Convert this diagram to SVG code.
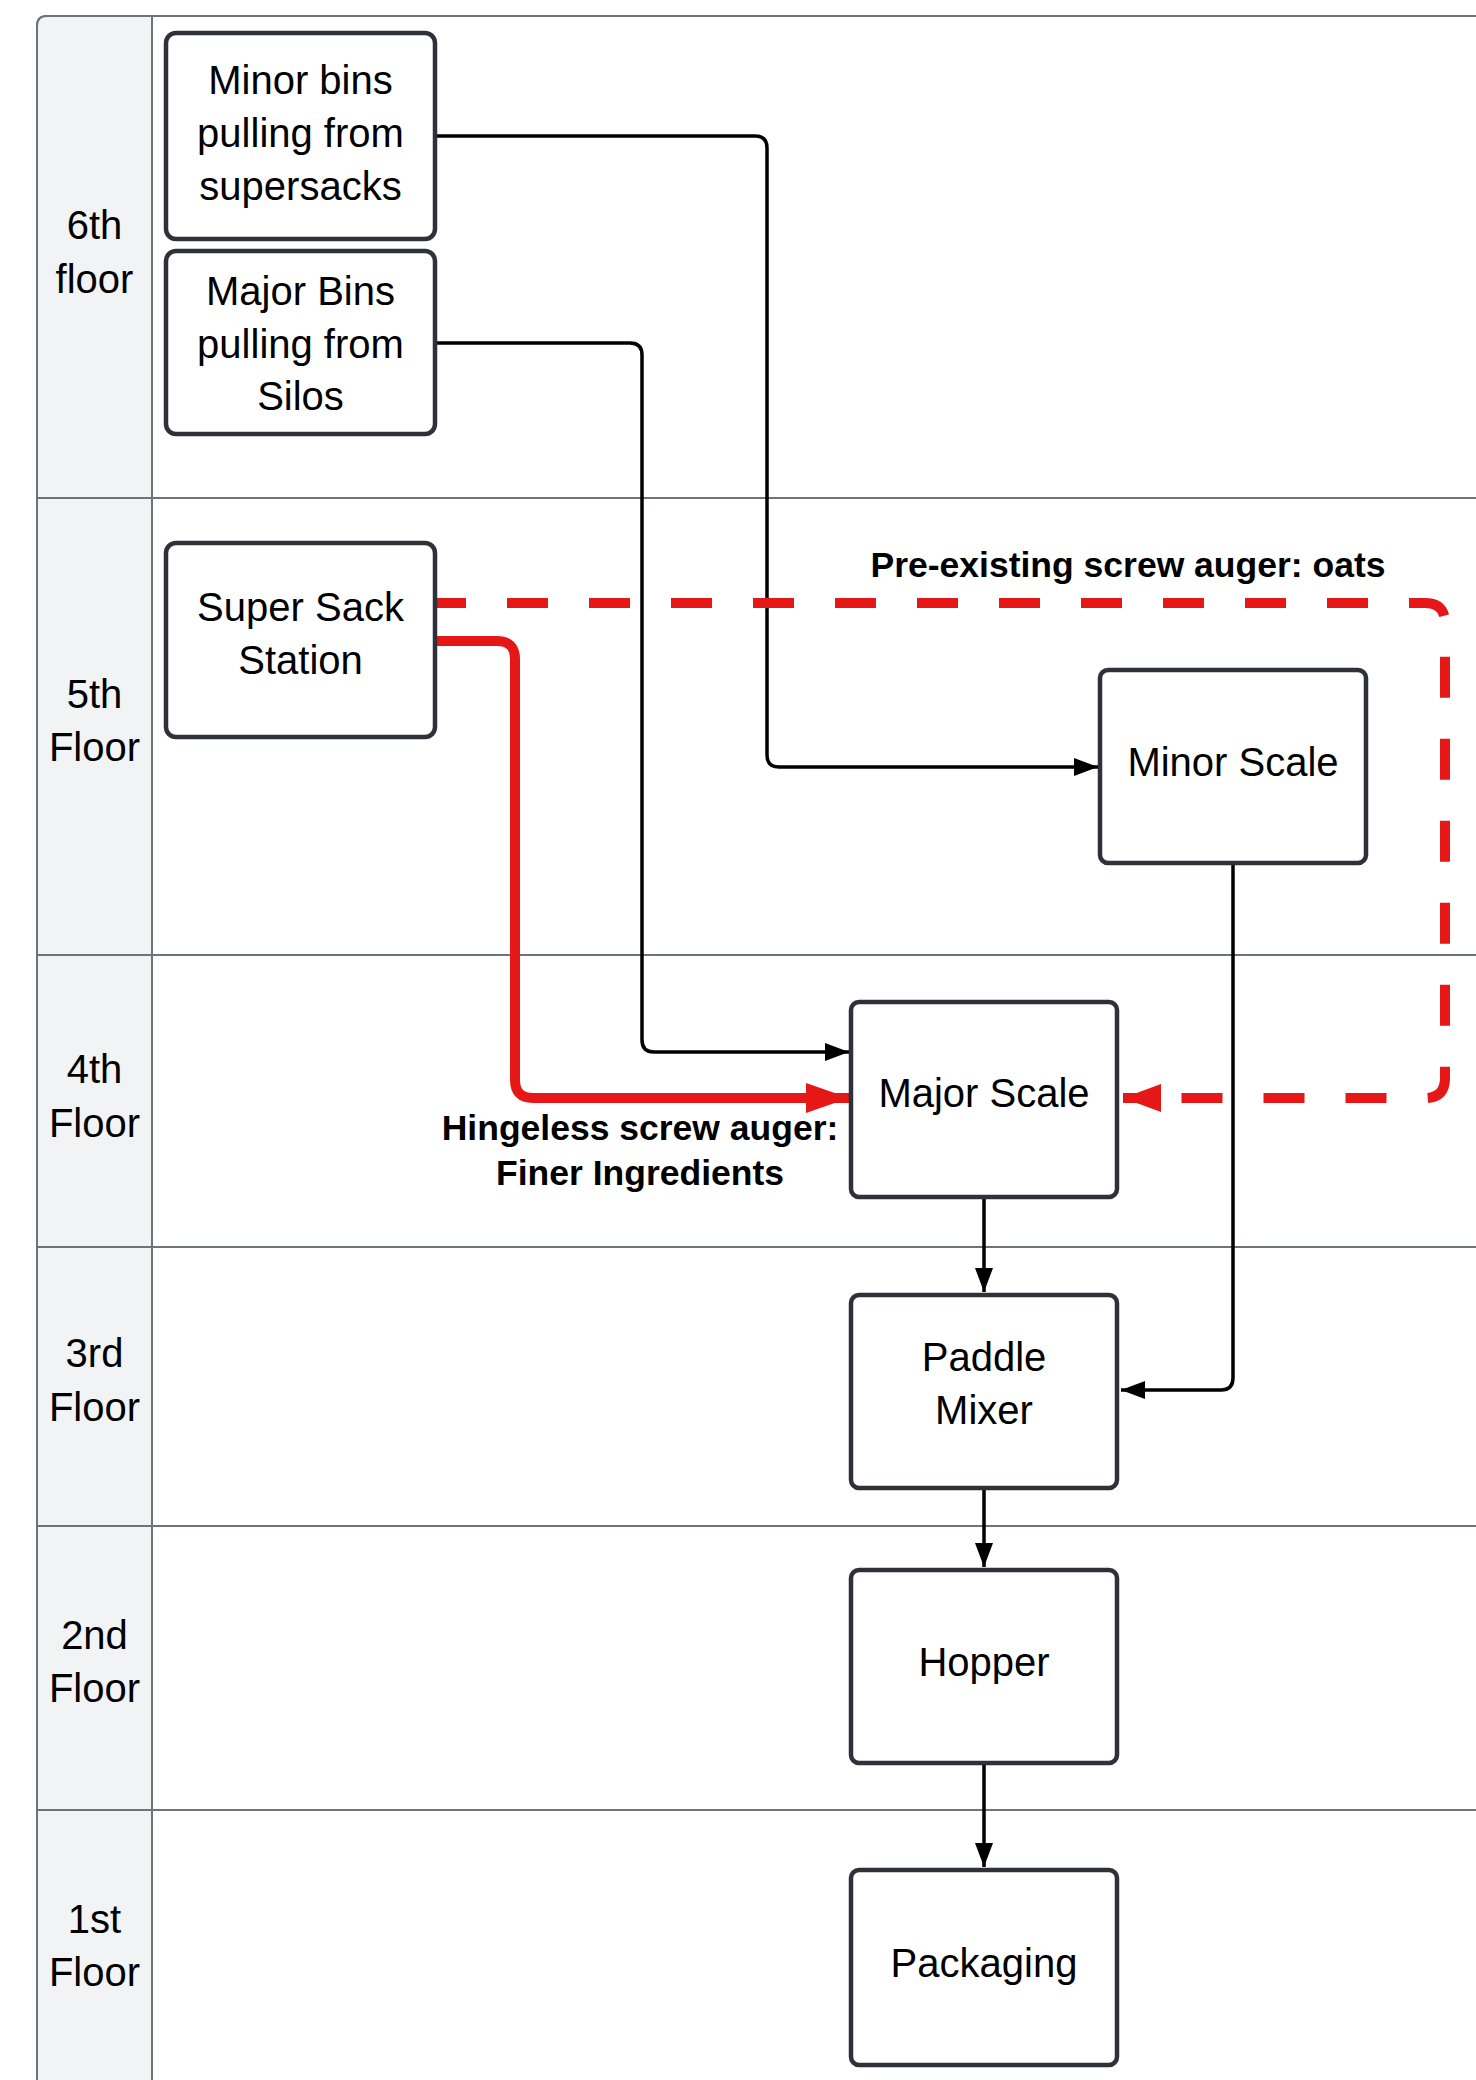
<svg xmlns="http://www.w3.org/2000/svg" width="1476" height="2080" viewBox="0 0 1476 2080">
<defs>
<style>
.lane{fill:#ffffff;stroke:#6E737B;stroke-width:2}
.head{fill:#F2F3F5;stroke:#6E737B;stroke-width:2}
.div{stroke:#6E737B;stroke-width:2;fill:none}
.lt{font-family:"Liberation Sans",Arial,sans-serif;font-size:40px;fill:#000;text-anchor:middle}
.box{fill:#ffffff;stroke:#2E3238;stroke-width:4.5}
.nt{font-family:"Liberation Sans",Arial,sans-serif;font-size:40px;fill:#000;text-anchor:middle}
.bl{font-family:"Liberation Sans",Arial,sans-serif;font-size:35.5px;font-weight:bold;fill:#000;text-anchor:middle}
.c{fill:none;stroke:#000;stroke-width:3.5}
.r{fill:none;stroke:#E51717;stroke-width:10}
</style>
<marker id="ab" markerUnits="userSpaceOnUse" markerWidth="24" markerHeight="18" refX="24" refY="9" orient="auto">
<path d="M0,0 L24,9 L0,18 z" fill="#000"/>
</marker>
<marker id="ar" markerUnits="userSpaceOnUse" markerWidth="43" markerHeight="30" refX="43" refY="15" orient="auto">
<path d="M0,0 L43,15 L0,30 z" fill="#E51717"/>
</marker>
<marker id="ard" markerUnits="userSpaceOnUse" markerWidth="38" markerHeight="28" refX="38" refY="14" orient="auto">
<path d="M0,0 L38,14 L0,28 z" fill="#E51717"/>
</marker>
</defs>

<g id="lanes">
<path class="lane" d="M1480,16 H47 Q37,16 37,26 V2090 H1480"/>
<path class="head" d="M152,16 H47 Q37,16 37,26 V2090 H152 Z"/>
<line class="div" x1="37" y1="498" x2="1480" y2="498"/>
<line class="div" x1="37" y1="955" x2="1480" y2="955"/>
<line class="div" x1="37" y1="1247" x2="1480" y2="1247"/>
<line class="div" x1="37" y1="1526" x2="1480" y2="1526"/>
<line class="div" x1="37" y1="1810" x2="1480" y2="1810"/>
<text class="lt" x="94.5" y="239">6th</text>
<text class="lt" x="94.5" y="293">floor</text>
<text class="lt" x="94.5" y="708">5th</text>
<text class="lt" x="94.5" y="761">Floor</text>
<text class="lt" x="94.5" y="1083">4th</text>
<text class="lt" x="94.5" y="1137">Floor</text>
<text class="lt" x="94.5" y="1367">3rd</text>
<text class="lt" x="94.5" y="1421">Floor</text>
<text class="lt" x="94.5" y="1649">2nd</text>
<text class="lt" x="94.5" y="1702">Floor</text>
<text class="lt" x="94.5" y="1933">1st</text>
<text class="lt" x="94.5" y="1986">Floor</text>
</g>

<g id="connectors">
<path class="c" d="M435,136 H755 Q767,136 767,148 V755 Q767,767 779,767 H1098" marker-end="url(#ab)"/>
<path class="c" d="M435,343 H630 Q642,343 642,355 V1040 Q642,1052 654,1052 H849" marker-end="url(#ab)"/>
<path class="r" d="M435,641 H497 Q515,641 515,659 V1080 Q515,1098 533,1098 H849" marker-end="url(#ar)"/>
<path class="r" stroke-dasharray="41 41" stroke-dashoffset="10" d="M435,603 H1425 Q1445,603 1445,623 V1078 Q1445,1098 1425,1098 H1123" marker-end="url(#ard)"/>
<path class="c" d="M1233,863 V1378 Q1233,1390 1221,1390 H1121" marker-end="url(#ab)"/>
<path class="c" d="M984,1197 V1292" marker-end="url(#ab)"/>
<path class="c" d="M984,1488 V1567" marker-end="url(#ab)"/>
<path class="c" d="M984,1763 V1867" marker-end="url(#ab)"/>
<text class="bl" x="1128" y="577">Pre-existing screw auger: oats</text>
<text class="bl" x="640" y="1140">Hingeless screw auger:</text>
<text class="bl" x="640" y="1185">Finer Ingredients</text>
</g>

<g id="minor-bins">
<rect class="box" x="166" y="33" width="269" height="206" rx="10"/>
<text class="nt" x="300.5" y="94">Minor bins</text>
<text class="nt" x="300.5" y="147">pulling from</text>
<text class="nt" x="300.5" y="200">supersacks</text>
</g>
<g id="major-bins">
<rect class="box" x="166" y="251" width="269" height="183" rx="10"/>
<text class="nt" x="300.5" y="305">Major Bins</text>
<text class="nt" x="300.5" y="358">pulling from</text>
<text class="nt" x="300.5" y="410">Silos</text>
</g>
<g id="super-sack">
<rect class="box" x="166" y="543" width="269" height="194" rx="10"/>
<text class="nt" x="300.5" y="621">Super Sack</text>
<text class="nt" x="300.5" y="674">Station</text>
</g>
<g id="minor-scale">
<rect class="box" x="1100" y="670" width="266" height="193" rx="8"/>
<text class="nt" x="1233" y="776">Minor Scale</text>
</g>
<g id="major-scale">
<rect class="box" x="851" y="1002" width="266" height="195" rx="8"/>
<text class="nt" x="984" y="1107">Major Scale</text>
</g>
<g id="paddle-mixer">
<rect class="box" x="851" y="1295" width="266" height="193" rx="8"/>
<text class="nt" x="984" y="1371">Paddle</text>
<text class="nt" x="984" y="1424">Mixer</text>
</g>
<g id="hopper">
<rect class="box" x="851" y="1570" width="266" height="193" rx="8"/>
<text class="nt" x="984" y="1676">Hopper</text>
</g>
<g id="packaging">
<rect class="box" x="851" y="1870" width="266" height="195" rx="8"/>
<text class="nt" x="984" y="1977">Packaging</text>
</g>
</svg>
